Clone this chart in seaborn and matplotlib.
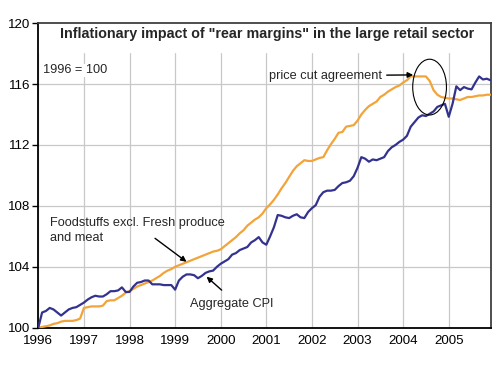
import seaborn as sns
import matplotlib.pyplot as plt
import pandas as pd
import numpy as np
from matplotlib.patches import Ellipse

years = list(range(1996, 2006))

# monthly index values, Jan 1996 .. Dec 2005 (1996 = 100)
foodstuffs = [
    100.0, 100.05, 100.1, 100.15, 100.25, 100.3, 100.4, 100.45, 100.45, 100.45, 100.5, 100.6,
    101.3, 101.35, 101.4, 101.4, 101.4, 101.45, 101.75, 101.8, 101.8, 101.95, 102.1, 102.3,
    102.4, 102.55, 102.7, 102.8, 102.9, 103.0, 103.1, 103.25, 103.4, 103.6, 103.75, 103.85,
    104.0, 104.1, 104.2, 104.3, 104.4, 104.5, 104.6, 104.7, 104.8, 104.9, 105.0, 105.05,
    105.15, 105.35, 105.55, 105.75, 105.95, 106.2, 106.4, 106.7, 106.9, 107.1, 107.25, 107.5,
    107.85, 108.1, 108.4, 108.75, 109.15, 109.5, 109.9, 110.3, 110.6, 110.8, 111.0, 110.95,
    110.95, 111.05, 111.15, 111.2, 111.65, 112.05, 112.4, 112.8, 112.85, 113.2, 113.25, 113.3,
    113.6, 114.0, 114.3, 114.55, 114.7, 114.85, 115.15, 115.3, 115.5, 115.65, 115.8, 115.9,
    116.1, 116.25, 116.5, 116.5, 116.5, 116.5, 116.5, 116.2, 115.6, 115.3, 115.15, 115.1,
    115.05, 115.05, 115.0, 114.95, 115.05, 115.15, 115.15, 115.2, 115.25, 115.25, 115.3, 115.3,
]
aggregate_cpi = [
    100.0, 101.0, 101.1, 101.3, 101.2, 101.0, 100.8, 101.0, 101.2, 101.3, 101.35, 101.5,
    101.65, 101.85, 102.0, 102.1, 102.05, 102.05, 102.2, 102.4, 102.4, 102.45, 102.65, 102.35,
    102.35, 102.7, 102.95, 103.0, 103.1, 103.1, 102.85, 102.85, 102.85, 102.8, 102.8, 102.8,
    102.5, 103.1, 103.35, 103.5, 103.5, 103.45, 103.25, 103.4, 103.6, 103.7, 103.75, 104.0,
    104.2, 104.35, 104.5, 104.8, 104.9, 105.1, 105.2, 105.3, 105.6, 105.75, 105.95, 105.6,
    105.45, 106.0, 106.6, 107.4, 107.35, 107.25, 107.2, 107.35, 107.45, 107.25, 107.2, 107.6,
    107.85, 108.05, 108.6, 108.9, 109.0, 109.0, 109.05, 109.3, 109.5, 109.55, 109.65, 109.95,
    110.5, 111.2, 111.1, 110.9, 111.05, 111.0, 111.1, 111.2, 111.6, 111.85, 112.0, 112.2,
    112.35, 112.6, 113.2, 113.5, 113.8, 113.95, 113.9, 114.05, 114.2, 114.5, 114.6, 114.7,
    113.85, 114.7, 115.85, 115.6, 115.8, 115.7, 115.65, 116.1, 116.5, 116.3, 116.35, 116.25,
]

t = np.array([y + m / 12 for y in years for m in range(12)])
df = pd.DataFrame({
    "t": np.concatenate([t, t]),
    "value": foodstuffs + aggregate_cpi,
    "series": ["Foodstuffs"] * len(t) + ["Aggregate CPI"] * len(t),
})

sns.set_style("white")
plt.rcParams["font.family"] = ["Liberation Sans", "DejaVu Sans"]

fig = plt.figure(figsize=(5, 3.67), dpi=100)
ax = fig.add_axes([0.0766, 0.107, 0.9048, 0.830])

sns.lineplot(data=df, x="t", y="value", hue="series",
             palette={"Foodstuffs": "#F2A43A", "Aggregate CPI": "#33338F"},
             linewidth=1.6, legend=False, ax=ax, zorder=3)

ax.set_xlim(1996, 2005.92)
ax.set_ylim(100, 120)
ax.set_xticks(years)
ax.set_yticks([100, 104, 108, 112, 116, 120])
ax.grid(True, color="#C8C8C8", linewidth=0.9)
ax.set_axisbelow(True)
ax.axhspan(118.1, 120, color="white", zorder=1)
ax.tick_params(axis="both", labelsize=9.6, colors="black")
ax.tick_params(axis="y", length=4, width=1, direction="out", left=True, pad=2)
ax.tick_params(axis="x", length=0, pad=5)
ax.set_xlabel("")
ax.set_ylabel("")
for s in ["left", "bottom"]:
    ax.spines[s].set_color("black")
    ax.spines[s].set_linewidth(1.3)
for s in ["top", "right"]:
    ax.spines[s].set_color("#404040")
    ax.spines[s].set_linewidth(1.3)

ax.text(0.505, 0.963, 'Inflationary impact of "rear margins" in the large retail sector',
        transform=ax.transAxes, ha="center", va="center", fontsize=10.3, fontweight="bold",
        zorder=4)
ax.text(1996.1, 116.9, "1996 = 100", fontsize=9.2, va="center", zorder=4,
        bbox=dict(facecolor="white", edgecolor="none", pad=0.5))

ax.annotate("price cut agreement", xy=(2004.22, 116.6), xytext=(2001.06, 116.55),
            fontsize=9.2, va="center", zorder=5,
            arrowprops=dict(arrowstyle="-|>", color="black", lw=1, shrinkA=1, shrinkB=0,
                            mutation_scale=8))
ax.add_patch(Ellipse((2004.58, 115.8), 0.74, 3.66, fill=False, edgecolor="black",
                     linewidth=0.8, zorder=5))

ax.text(1996.25, 106.4, "Foodstuffs excl. Fresh produce\nand meat", fontsize=9.2,
        va="center", linespacing=1.35, zorder=5)
ax.annotate("", xy=(1999.25, 104.33), xytext=(1998.56, 105.87),
            arrowprops=dict(arrowstyle="-|>", color="black", lw=1, mutation_scale=8,
                            shrinkA=0, shrinkB=0), zorder=5)
ax.text(1999.33, 101.55, "Aggregate CPI", fontsize=9.2, va="center", zorder=5)
ax.annotate("", xy=(1999.69, 103.35), xytext=(2000.02, 102.47),
            arrowprops=dict(arrowstyle="-|>", color="black", lw=1, mutation_scale=8,
                            shrinkA=0, shrinkB=0), zorder=5)

fig.savefig("out.png", dpi=100)
